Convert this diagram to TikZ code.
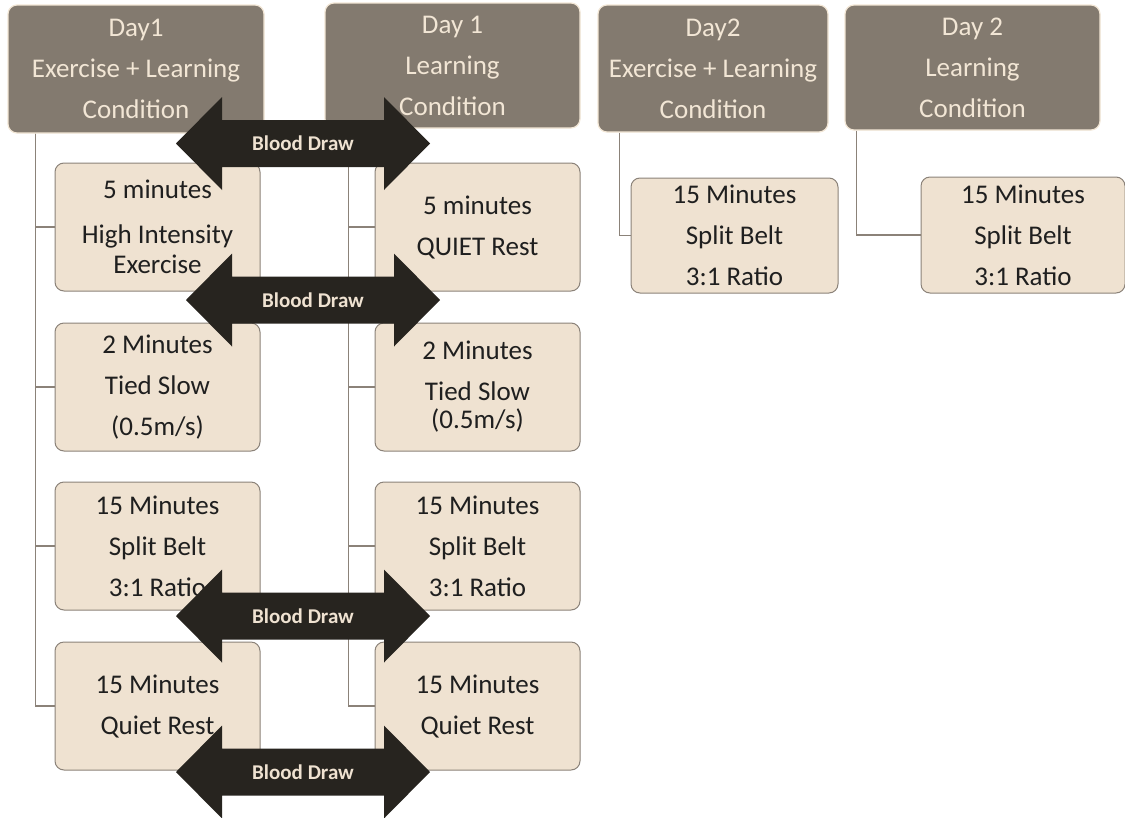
\documentclass[tikz,border=0pt]{standalone}
\usepackage{fontspec}
\setmainfont{Carlito}

\definecolor{headfill}{HTML}{837A6F}
\definecolor{cream}{HTML}{F2E6D5}
\definecolor{boxfill}{HTML}{EFE2D1}
\definecolor{boxline}{HTML}{8B8279}
\definecolor{drawdark}{HTML}{27241F}

\begin{document}
\begin{tikzpicture}[
        x=1pt,
        y=-1pt,
        headbox/.style={
            draw=cream,
            line width=1.2pt,
            fill=headfill,
            text=cream,
            rounded corners=9pt,
            align=center,
            inner sep=0pt,
            font=\fontsize{27}{41}\selectfont
        },
        stepbox/.style={
            draw=boxline,
            line width=1pt,
            fill=boxfill,
            text=black!88,
            rounded corners=9pt,
            align=center,
            inner sep=0pt,
            minimum width=205pt,
            minimum height=128pt,
            font=\fontsize{27}{41}\selectfont
        },
        link/.style={
            draw=boxline,
            line width=1.1pt
        },
        arrowlabel/.style={
            font=\bfseries\fontsize{21}{24}\selectfont,
            text=boxfill
        }
    ]

    \useasboundingbox (0,0) rectangle (1125,817);

    % ---------------------------------------------------------
    % Blood draw double arrow
    % #1 = name, #2 = centre x, #3 = centre y
    % ---------------------------------------------------------
    \newcommand{\bloodDraw}[3]{
        \fill[drawdark]
            (#2-127,#3) -- (#2-81,#3-46.5) -- (#2-81,#3-23.5)
            -- (#2+81,#3-23.5) -- (#2+81,#3-46.5) -- (#2+127,#3)
            -- (#2+81,#3+46.5) -- (#2+81,#3+23.5)
            -- (#2-81,#3+23.5) -- (#2-81,#3+46.5) -- cycle;
        \node[arrowlabel] (#1) at (#2,#3) {Blood Draw};
    }

    % ---------------------------------------------------------
    % Condition headers
    % ---------------------------------------------------------
    \node[headbox, minimum width=256pt, minimum height=128pt]
        (dayoneex) at (136,69) {Day1\\Exercise + Learning\\Condition};
    \node[headbox, minimum width=255pt, minimum height=125pt]
        (dayonelearn) at (452.5,65.5) {Day 1\\Learning\\Condition};
    \node[headbox, minimum width=230pt, minimum height=127pt]
        (daytwoex) at (713,68.5) {Day2\\Exercise + Learning\\Condition};
    \node[headbox, minimum width=255pt, minimum height=125pt]
        (daytwolearn) at (972.5,67.5) {Day 2\\Learning\\Condition};

    % ---------------------------------------------------------
    % Day 1, exercise + learning
    % ---------------------------------------------------------
    \node[stepbox] (exhigh) at (157.5,227)
        {5 minutes\\[4pt]High Intensity\\[-11pt]Exercise};
    \node[stepbox] (extied) at (157.5,387)
        {2 Minutes\\Tied Slow\\(0.5m/s)};
    \node[stepbox] (exsplit) at (157.5,546)
        {15 Minutes\\Split Belt\\3:1 Ratio};
    \node[stepbox] (exrest) at (157.5,706)
        {15 Minutes\\Quiet Rest};

    % ---------------------------------------------------------
    % Day 1, learning only
    % ---------------------------------------------------------
    \node[stepbox] (lnquiet) at (477.5,227)
        {5 minutes\\QUIET Rest};
    \node[stepbox] (lntied) at (477.5,387)
        {2 Minutes\\Tied Slow\\[-13pt](0.5m/s)};
    \node[stepbox] (lnsplit) at (477.5,546)
        {15 Minutes\\Split Belt\\3:1 Ratio};
    \node[stepbox] (lnrest) at (477.5,706)
        {15 Minutes\\Quiet Rest};

    % ---------------------------------------------------------
    % Day 2
    % ---------------------------------------------------------
    \node[stepbox, minimum width=207pt, minimum height=115pt]
        (twoexsplit) at (734.5,235.5) {15 Minutes\\Split Belt\\3:1 Ratio};
    \node[stepbox, minimum width=204pt, minimum height=116pt]
        (twolnsplit) at (1023,235) {15 Minutes\\Split Belt\\3:1 Ratio};

    % ---------------------------------------------------------
    % Tree connectors
    % ---------------------------------------------------------
    \foreach \child in {exhigh, extied, exsplit, exrest} {
        \draw[link] ([xshift=28pt]dayoneex.south west) |- (\child.west);
    }
    \foreach \child in {lnquiet, lntied, lnsplit, lnrest} {
        \draw[link] ([xshift=24pt]dayonelearn.south west) |- (\child.west);
    }
    \draw[link] ([xshift=22pt]daytwoex.south west) |- (twoexsplit.west);
    \draw[link] ([xshift=12pt]daytwolearn.south west) |- (twolnsplit.west);

    % ---------------------------------------------------------
    % Blood draws, on top of everything
    % ---------------------------------------------------------
    \bloodDraw{drawone}{303}{143.5}
    \bloodDraw{drawtwo}{313}{300}
    \bloodDraw{drawthree}{303}{616}
    \bloodDraw{drawfour}{303}{772}

\end{tikzpicture}
\end{document}
